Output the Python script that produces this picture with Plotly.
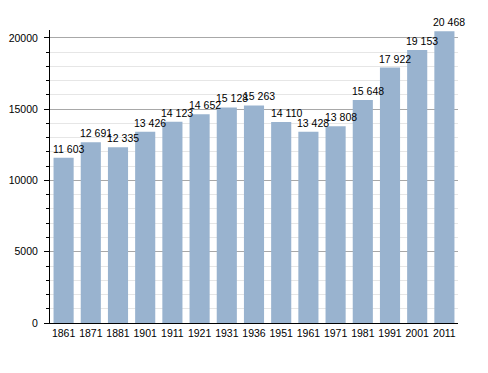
import plotly.graph_objects as go

years = ["1861", "1871", "1881", "1901", "1911", "1921", "1931", "1936",
         "1951", "1961", "1971", "1981", "1991", "2001", "2011"]
population = [11603, 12691, 12335, 13426, 14123, 14652, 15128, 15263,
              14110, 13428, 13808, 15648, 17922, 19153, 20468]
labels = [f"{v:,}".replace(",", " ") for v in population]

fig = go.Figure()
fig.add_trace(go.Bar(
    x=years, y=population,
    marker=dict(color="#99b3cf", line=dict(width=0)),
    hoverinfo="x+y",
))
for i, (v, t) in enumerate(zip(population, labels)):
    fig.add_annotation(x=i, y=v, text=t, showarrow=False, xanchor="center",
                       yanchor="bottom", xshift=5, yshift=1,
                       font=dict(family="Liberation Sans, Arial", size=10.5, color="black"))
fig.update_layout(
    width=488, height=373,
    margin=dict(l=42, r=38, t=22, b=58, autoexpand=False),
    paper_bgcolor="white", plot_bgcolor="white",
    bargap=0.26, showlegend=False,
    font=dict(family="Liberation Sans, Arial", size=10.5, color="black"),
    xaxis=dict(type="category", categoryorder="array", categoryarray=years,
               range=[-0.5, len(years) - 0.5],
               showline=True, linecolor="black", linewidth=1,
               ticks="", tickfont=dict(size=10.5), showgrid=False, automargin=False),
    yaxis=dict(range=[0, 20560], tickvals=[0, 5000, 10000, 15000, 20000],
               ticktext=["0", "5000", "10000", "15000", "20000"],
               showline=True, linecolor="black", linewidth=1,
               ticks="outside", ticklen=5, tickcolor="black",
               gridcolor="#a8a8a8", gridwidth=1, zeroline=False, automargin=False,
               ticklabelstandoff=4,
               minor=dict(dtick=1000, tick0=0, showgrid=True, gridcolor="#e6e6e6",
                          ticks="outside", ticklen=3, tickcolor="black"),
               tickfont=dict(size=10.5)),
)
fig.write_html("out.html")
